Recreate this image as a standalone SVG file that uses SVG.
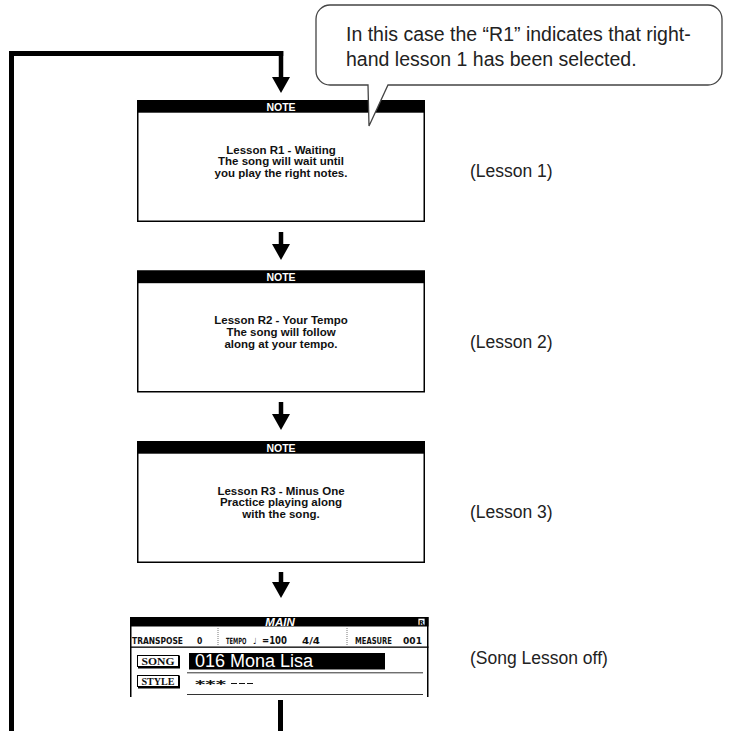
<svg xmlns="http://www.w3.org/2000/svg" width="739" height="731" viewBox="0 0 739 731">
<style>
.bd{fill:#fff;stroke:#000;stroke-width:1.5}
.hd{fill:#000}
.ht{font-family:"Liberation Sans",Arial,sans-serif;font-weight:bold;font-size:10.5px;fill:#fff;text-anchor:middle}
.bt{font-family:"Liberation Sans",Arial,sans-serif;font-weight:bold;font-size:11.5px;fill:#111;text-anchor:middle}
.lb{font-family:"Liberation Sans",Arial,sans-serif;font-size:17.5px;fill:#222}
.co{font-family:"Liberation Sans",Arial,sans-serif;font-size:19.5px;fill:#222}
.ar{fill:#000}
.lcd{font-family:"DejaVu Sans Condensed","DejaVu Sans",sans-serif;font-weight:bold;font-size:8.5px;fill:#111}
.sv{font-family:"Liberation Serif","Times New Roman",serif;font-weight:bold;font-size:10px;fill:#111}
</style>
<g id="connectors">
<rect class="ar" x="9" y="51" width="5" height="680"/>
<rect class="ar" x="9" y="51" width="274.25" height="5"/>
<rect class="ar" x="278.75" y="51" width="4.5" height="27"/>
<polygon class="ar" points="272,77 290,77 281,93"/>
<rect class="ar" x="278.75" y="232" width="4.5" height="14"/>
<polygon class="ar" points="272,244 290,244 281,260"/>
<rect class="ar" x="278.75" y="402" width="4.5" height="14"/>
<polygon class="ar" points="272,414 290,414 281,430"/>
<rect class="ar" x="278.75" y="572" width="4.5" height="12"/>
<polygon class="ar" points="272,582 290,582 281,598"/>
<rect class="ar" x="278" y="700" width="5" height="31"/>
</g>
<g id="note1">
<rect class="bd" x="137.75" y="100.75" width="286.5" height="120.5"/>
<rect class="hd" x="137" y="100" width="288" height="12.7"/>
<text class="ht" x="281" y="110.8">NOTE</text>
<text class="bt" x="281" y="153.5">Lesson R1 - Waiting</text>
<text class="bt" x="281" y="165.3">The song will wait until</text>
<text class="bt" x="281" y="177.1">you play the right notes.</text>
</g>
<g id="callout">
<path d="M330,5 H708 A14,14 0 0 1 722,19 V71 A14,14 0 0 1 708,85 H388 L369,126 L368,85 H330 A14,14 0 0 1 316,71 V19 A14,14 0 0 1 330,5 Z" fill="#fff" stroke="#444" stroke-width="1.3"/>
<text class="co" x="346" y="41">In this case the “R1” indicates that right-</text>
<text class="co" x="346" y="65.5">hand lesson 1 has been selected.</text>
</g>
<g id="label1"><text class="lb" x="470" y="177">(Lesson 1)</text></g>
<g id="note2">
<rect class="bd" x="137.75" y="271.25" width="286.5" height="120.5"/>
<rect class="hd" x="137" y="270.5" width="288" height="12.7"/>
<text class="ht" x="281" y="281.3">NOTE</text>
<text class="bt" x="281" y="324">Lesson R2 - Your Tempo</text>
<text class="bt" x="281" y="335.8">The song will follow</text>
<text class="bt" x="281" y="347.6">along at your tempo.</text>
</g>
<g id="label2"><text class="lb" x="470" y="347.5">(Lesson 2)</text></g>
<g id="note3">
<rect class="bd" x="137.75" y="441.75" width="286.5" height="120.5"/>
<rect class="hd" x="137" y="441" width="288" height="12.7"/>
<text class="ht" x="281" y="451.8">NOTE</text>
<text class="bt" x="281" y="494.5">Lesson R3 - Minus One</text>
<text class="bt" x="281" y="506.3">Practice playing along</text>
<text class="bt" x="281" y="518.1">with the song.</text>
</g>
<g id="label3"><text class="lb" x="470" y="518">(Lesson 3)</text></g>
<g id="main">
<rect class="hd" x="130" y="617" width="298.5" height="9.5"/>
<text x="280" y="625.8" font-family="Liberation Sans,Arial,sans-serif" font-weight="bold" font-style="italic" font-size="11.5" fill="#fff" text-anchor="middle">MAIN</text>
<rect x="418" y="618.2" width="7" height="7" fill="#fff" stroke="#000" stroke-width="0.8"/>
<text x="421.5" y="624.5" font-family="DejaVu Sans,sans-serif" font-weight="bold" font-size="6.5" fill="#000" text-anchor="middle">R</text>
<rect x="130" y="617" width="1.5" height="80" fill="#000"/>
<rect x="427" y="617" width="1.5" height="80" fill="#000"/>
<text class="lcd" x="132" y="644" textLength="51" lengthAdjust="spacingAndGlyphs">TRANSPOSE</text>
<text class="lcd" x="197" y="644" font-size="10">0</text>
<line x1="218" y1="628" x2="218" y2="646" stroke="#555" stroke-width="0.8" stroke-dasharray="1,1"/>
<text class="lcd" transform="translate(226,644) scale(0.68,1)">TEMPO</text>
<text class="lcd" x="253" y="644" font-size="9">♩<tspan x="262" font-size="10" textLength="25" lengthAdjust="spacingAndGlyphs">=100</tspan></text>
<text class="lcd" x="302" y="644" font-size="10" textLength="18" lengthAdjust="spacingAndGlyphs">4/4</text>
<line x1="347" y1="628" x2="347" y2="646" stroke="#555" stroke-width="0.8" stroke-dasharray="1,1"/>
<text class="lcd" x="355" y="644" textLength="37" lengthAdjust="spacingAndGlyphs">MEASURE</text>
<text class="lcd" x="403" y="644" font-size="10" textLength="19" lengthAdjust="spacingAndGlyphs">001</text>
<rect x="130" y="646.5" width="298.5" height="1.3" fill="#000"/>
<rect x="137.5" y="655.5" width="41.5" height="11" fill="#fff" stroke="#000" stroke-width="1"/>
<path d="M179,656 V667.5 H138" fill="none" stroke="#000" stroke-width="2"/>
<text class="sv" x="158" y="665" text-anchor="middle" textLength="33" lengthAdjust="spacingAndGlyphs">SONG</text>
<rect x="137.5" y="675.5" width="41.5" height="11" fill="#fff" stroke="#000" stroke-width="1"/>
<path d="M179,676 V687.5 H138" fill="none" stroke="#000" stroke-width="2"/>
<text class="sv" x="158" y="685" text-anchor="middle" textLength="33" lengthAdjust="spacingAndGlyphs">STYLE</text>
<rect x="189" y="653" width="196" height="16.5" fill="#000"/>
<text x="195" y="667" font-family="Liberation Sans,Arial,sans-serif" font-size="18" fill="#fff">016 Mona Lisa</text>
<rect x="187" y="672.3" width="236" height="1" fill="#333"/>
<text x="195" y="688" font-family="DejaVu Sans,sans-serif" font-weight="bold" font-size="11" fill="#111" textLength="31" lengthAdjust="spacingAndGlyphs">***</text>
<path d="M231,683.5 H237 M239,683.5 H245 M247,683.5 H253" stroke="#111" stroke-width="1.2"/>
<rect x="187" y="694" width="236" height="1" fill="#333"/>
</g>
<g id="label4"><text class="lb" x="470" y="664">(Song Lesson off)</text></g>
</svg>
